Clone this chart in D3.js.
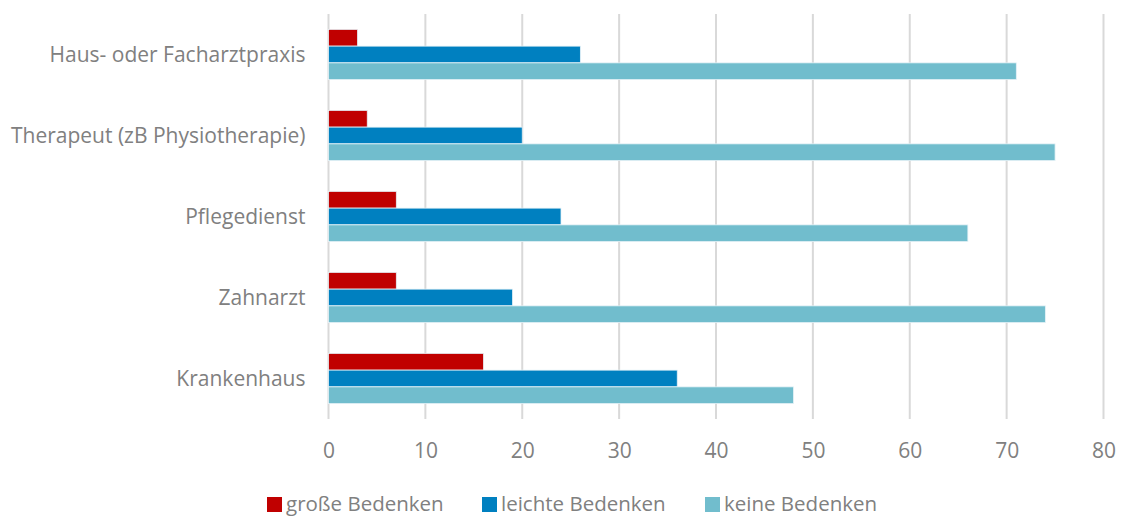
<!DOCTYPE html>
<html><head><meta charset="utf-8">
<script src="https://cdn.jsdelivr.net/npm/d3@7"></script>
<style>body{margin:0;background:#fff}text{font-family:"Open Sans",sans-serif;fill:#808080}</style>
</head><body>
<svg id="c" width="1121" height="516"></svg>
<script>
const categories = ["Haus- oder Facharztpraxis","Therapeut (zB Physiotherapie)","Pflegedienst","Zahnarzt","Krankenhaus"];
const seriesNames = ["große Bedenken","leichte Bedenken","keine Bedenken"];
const grosse = [3,4,7,7,16];
const leichte = [26,20,24,19,36];
const keine = [71,75,66,74,48];
const tickValues = [0,10,20,30,40,50,60,70,80];
const colors = ["#C00000","#0080C0","#71BDCD"];

const series = [grosse, leichte, keine];
const svg = d3.select("#c");
const m = {left:328.5, right:1103.5, top:14, bottom:419};
const x = d3.scaleLinear().domain([0,80]).range([m.left, m.right]);
const y = d3.scaleBand().domain(categories).range([m.top, m.bottom]).paddingInner(0.38).paddingOuter(0.19);
const ys = d3.scaleBand().domain(d3.range(3)).range([0, y.bandwidth()]);

svg.append("g").selectAll("line").data(tickValues).join("line")
  .attr("x1", d=>x(d)).attr("x2", d=>x(d)).attr("y1", m.top).attr("y2", m.bottom)
  .attr("stroke","#D9D9D9").attr("stroke-width",2);

const g = svg.append("g");
categories.forEach((c,i)=>{
  series.forEach((s,j)=>{
    g.append("rect").attr("x", x(0)).attr("y", y(c)+ys(j))
      .attr("width", x(s[i])-x(0)).attr("height", ys.bandwidth())
      .attr("fill", colors[j]).attr("stroke","#E6F2F7").attr("stroke-width",0.8);
  });
});

const xa = d3.axisBottom(x).tickValues(tickValues).tickSize(0).tickPadding(0).tickFormat(d3.format("d"));
svg.append("g").attr("transform",`translate(0,${m.bottom})`).call(xa)
  .call(a=>a.select(".domain").remove())
  .selectAll("text").attr("y",39).attr("dy",0).attr("font-size",21).style("font-family","Open Sans").attr("fill","#808080");

const ya = d3.axisLeft(y).tickSize(0).tickPadding(23);
svg.append("g").attr("transform",`translate(${m.left},0)`).call(ya)
  .call(a=>a.select(".domain").remove())
  .selectAll("text").attr("dy","0.38em").attr("font-size",21).style("font-family","Open Sans").attr("fill","#808080");

const legSq = [267, 482, 705];
const lg = svg.append("g");
seriesNames.forEach((n,j)=>{
  lg.append("rect").attr("x",legSq[j]).attr("y",497).attr("width",15).attr("height",15).attr("fill",colors[j]);
  lg.append("text").attr("x",legSq[j]+19).attr("y",511).attr("font-size",20.5).text(n);
});
</script>
</body></html>
